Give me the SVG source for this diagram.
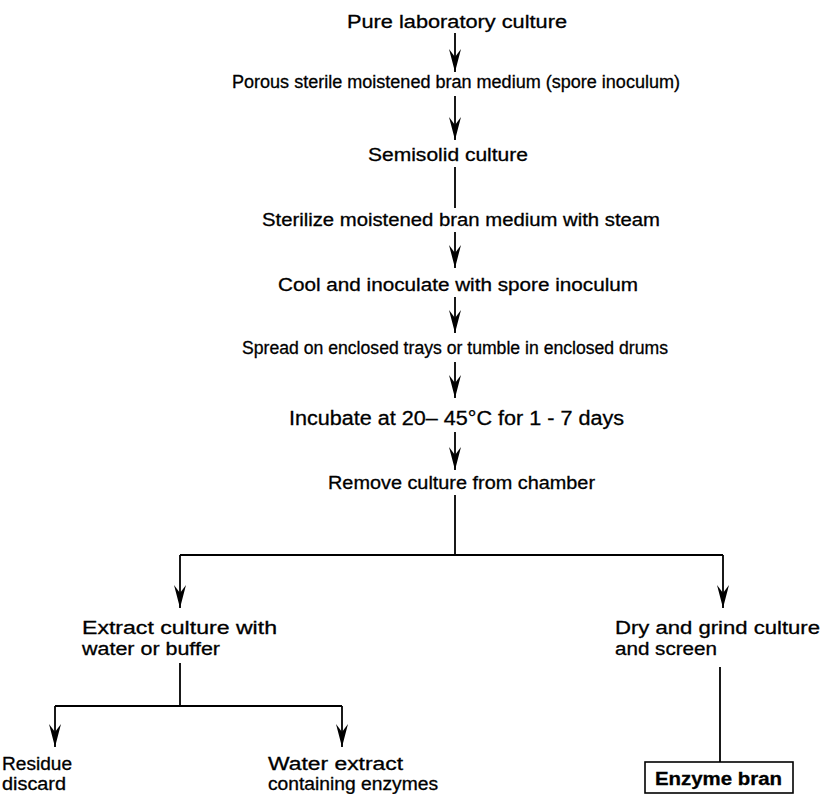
<svg xmlns="http://www.w3.org/2000/svg" width="824" height="794" viewBox="0 0 824 794">
  <style>
    text { font-family: "Liberation Sans", Arial, sans-serif; font-size: 18px; fill: #000; stroke: #000; stroke-width: 0.3; }
    .ln { stroke: #000; stroke-width: 1.8; fill: none; }
    .box { stroke: #000; stroke-width: 1.6; fill: none; }
  </style>
  <defs>
    <!-- barbed arrowhead, tip at the line end -->
    <marker id="head" viewBox="-24 -8 25 16" markerWidth="25" markerHeight="16" refX="0" refY="0" orient="auto" markerUnits="userSpaceOnUse">
      <path d="M0,0 L-23,-6 L-15,0 L-23,6 Z" fill="#000"/>
    </marker>
  </defs>
  <rect width="824" height="794" fill="#fff"/>

  <!-- connectors -->
  <g id="connectors">
    <line class="ln" x1="455" y1="33" x2="455" y2="72" marker-end="url(#head)"/>
    <line class="ln" x1="455" y1="96" x2="455" y2="140" marker-end="url(#head)"/>
    <line class="ln" x1="455" y1="167" x2="455" y2="208"/>
    <line class="ln" x1="455" y1="232" x2="455" y2="268" marker-end="url(#head)"/>
    <line class="ln" x1="455" y1="297" x2="455" y2="333" marker-end="url(#head)"/>
    <line class="ln" x1="455" y1="362" x2="455" y2="398" marker-end="url(#head)"/>
    <line class="ln" x1="455" y1="432" x2="455" y2="470" marker-end="url(#head)"/>
    <!-- split after removal -->
    <polyline class="ln" points="455,495 455,555"/>
    <polyline class="ln" points="180,555 723,555"/>
    <line class="ln" x1="180" y1="555" x2="180" y2="608" marker-end="url(#head)"/>
    <line class="ln" x1="723" y1="555" x2="723" y2="608" marker-end="url(#head)"/>
    <!-- extract branch -->
    <polyline class="ln" points="180,663 180,706"/>
    <polyline class="ln" points="55,706 342,706"/>
    <line class="ln" x1="55" y1="706" x2="55" y2="747" marker-end="url(#head)"/>
    <line class="ln" x1="342" y1="706" x2="342" y2="747" marker-end="url(#head)"/>
    <!-- dry branch -->
    <line class="ln" x1="720" y1="667" x2="720" y2="762"/>
  </g>

  <g id="n-pure"><text x="347" y="28" textLength="220" lengthAdjust="spacingAndGlyphs">Pure laboratory culture</text></g>
  <g id="n-porous"><text x="232" y="88" textLength="448" lengthAdjust="spacingAndGlyphs">Porous sterile moistened bran medium (spore inoculum)</text></g>
  <g id="n-semisolid"><text x="368" y="161" textLength="160" lengthAdjust="spacingAndGlyphs">Semisolid culture</text></g>
  <g id="n-sterilize"><text x="262" y="226" textLength="398" lengthAdjust="spacingAndGlyphs">Sterilize moistened bran medium with steam</text></g>
  <g id="n-cool"><text x="278" y="291" textLength="360" lengthAdjust="spacingAndGlyphs">Cool and inoculate with spore inoculum</text></g>
  <g id="n-spread"><text x="242" y="354" textLength="426" lengthAdjust="spacingAndGlyphs">Spread on enclosed trays or tumble in enclosed drums</text></g>
  <g id="n-incubate"><text x="289" y="425" textLength="335" lengthAdjust="spacingAndGlyphs" style="font-size:20px">Incubate at 20– 45°C for 1 - 7 days</text></g>
  <g id="n-remove"><text x="328" y="489" textLength="267" lengthAdjust="spacingAndGlyphs">Remove culture from chamber</text></g>

  <g id="n-extract">
    <text x="82" y="634" textLength="195" lengthAdjust="spacingAndGlyphs">Extract culture with</text>
    <text x="82" y="655" textLength="138" lengthAdjust="spacingAndGlyphs">water or buffer</text>
  </g>
  <g id="n-dry">
    <text x="615" y="634" textLength="205" lengthAdjust="spacingAndGlyphs">Dry and grind culture</text>
    <text x="615" y="655" textLength="102" lengthAdjust="spacingAndGlyphs">and screen</text>
  </g>
  <g id="n-residue">
    <text x="2" y="770" textLength="70" lengthAdjust="spacingAndGlyphs">Residue</text>
    <text x="2" y="790" textLength="64" lengthAdjust="spacingAndGlyphs">discard</text>
  </g>
  <g id="n-water">
    <text x="268" y="770" textLength="135" lengthAdjust="spacingAndGlyphs">Water extract</text>
    <text x="268" y="790" textLength="170" lengthAdjust="spacingAndGlyphs">containing enzymes</text>
  </g>
  <g id="n-enzyme">
    <rect class="box" x="645" y="762" width="148" height="31"/>
    <text x="655" y="785" textLength="127" lengthAdjust="spacingAndGlyphs" style="font-weight:bold">Enzyme bran</text>
  </g>
</svg>
